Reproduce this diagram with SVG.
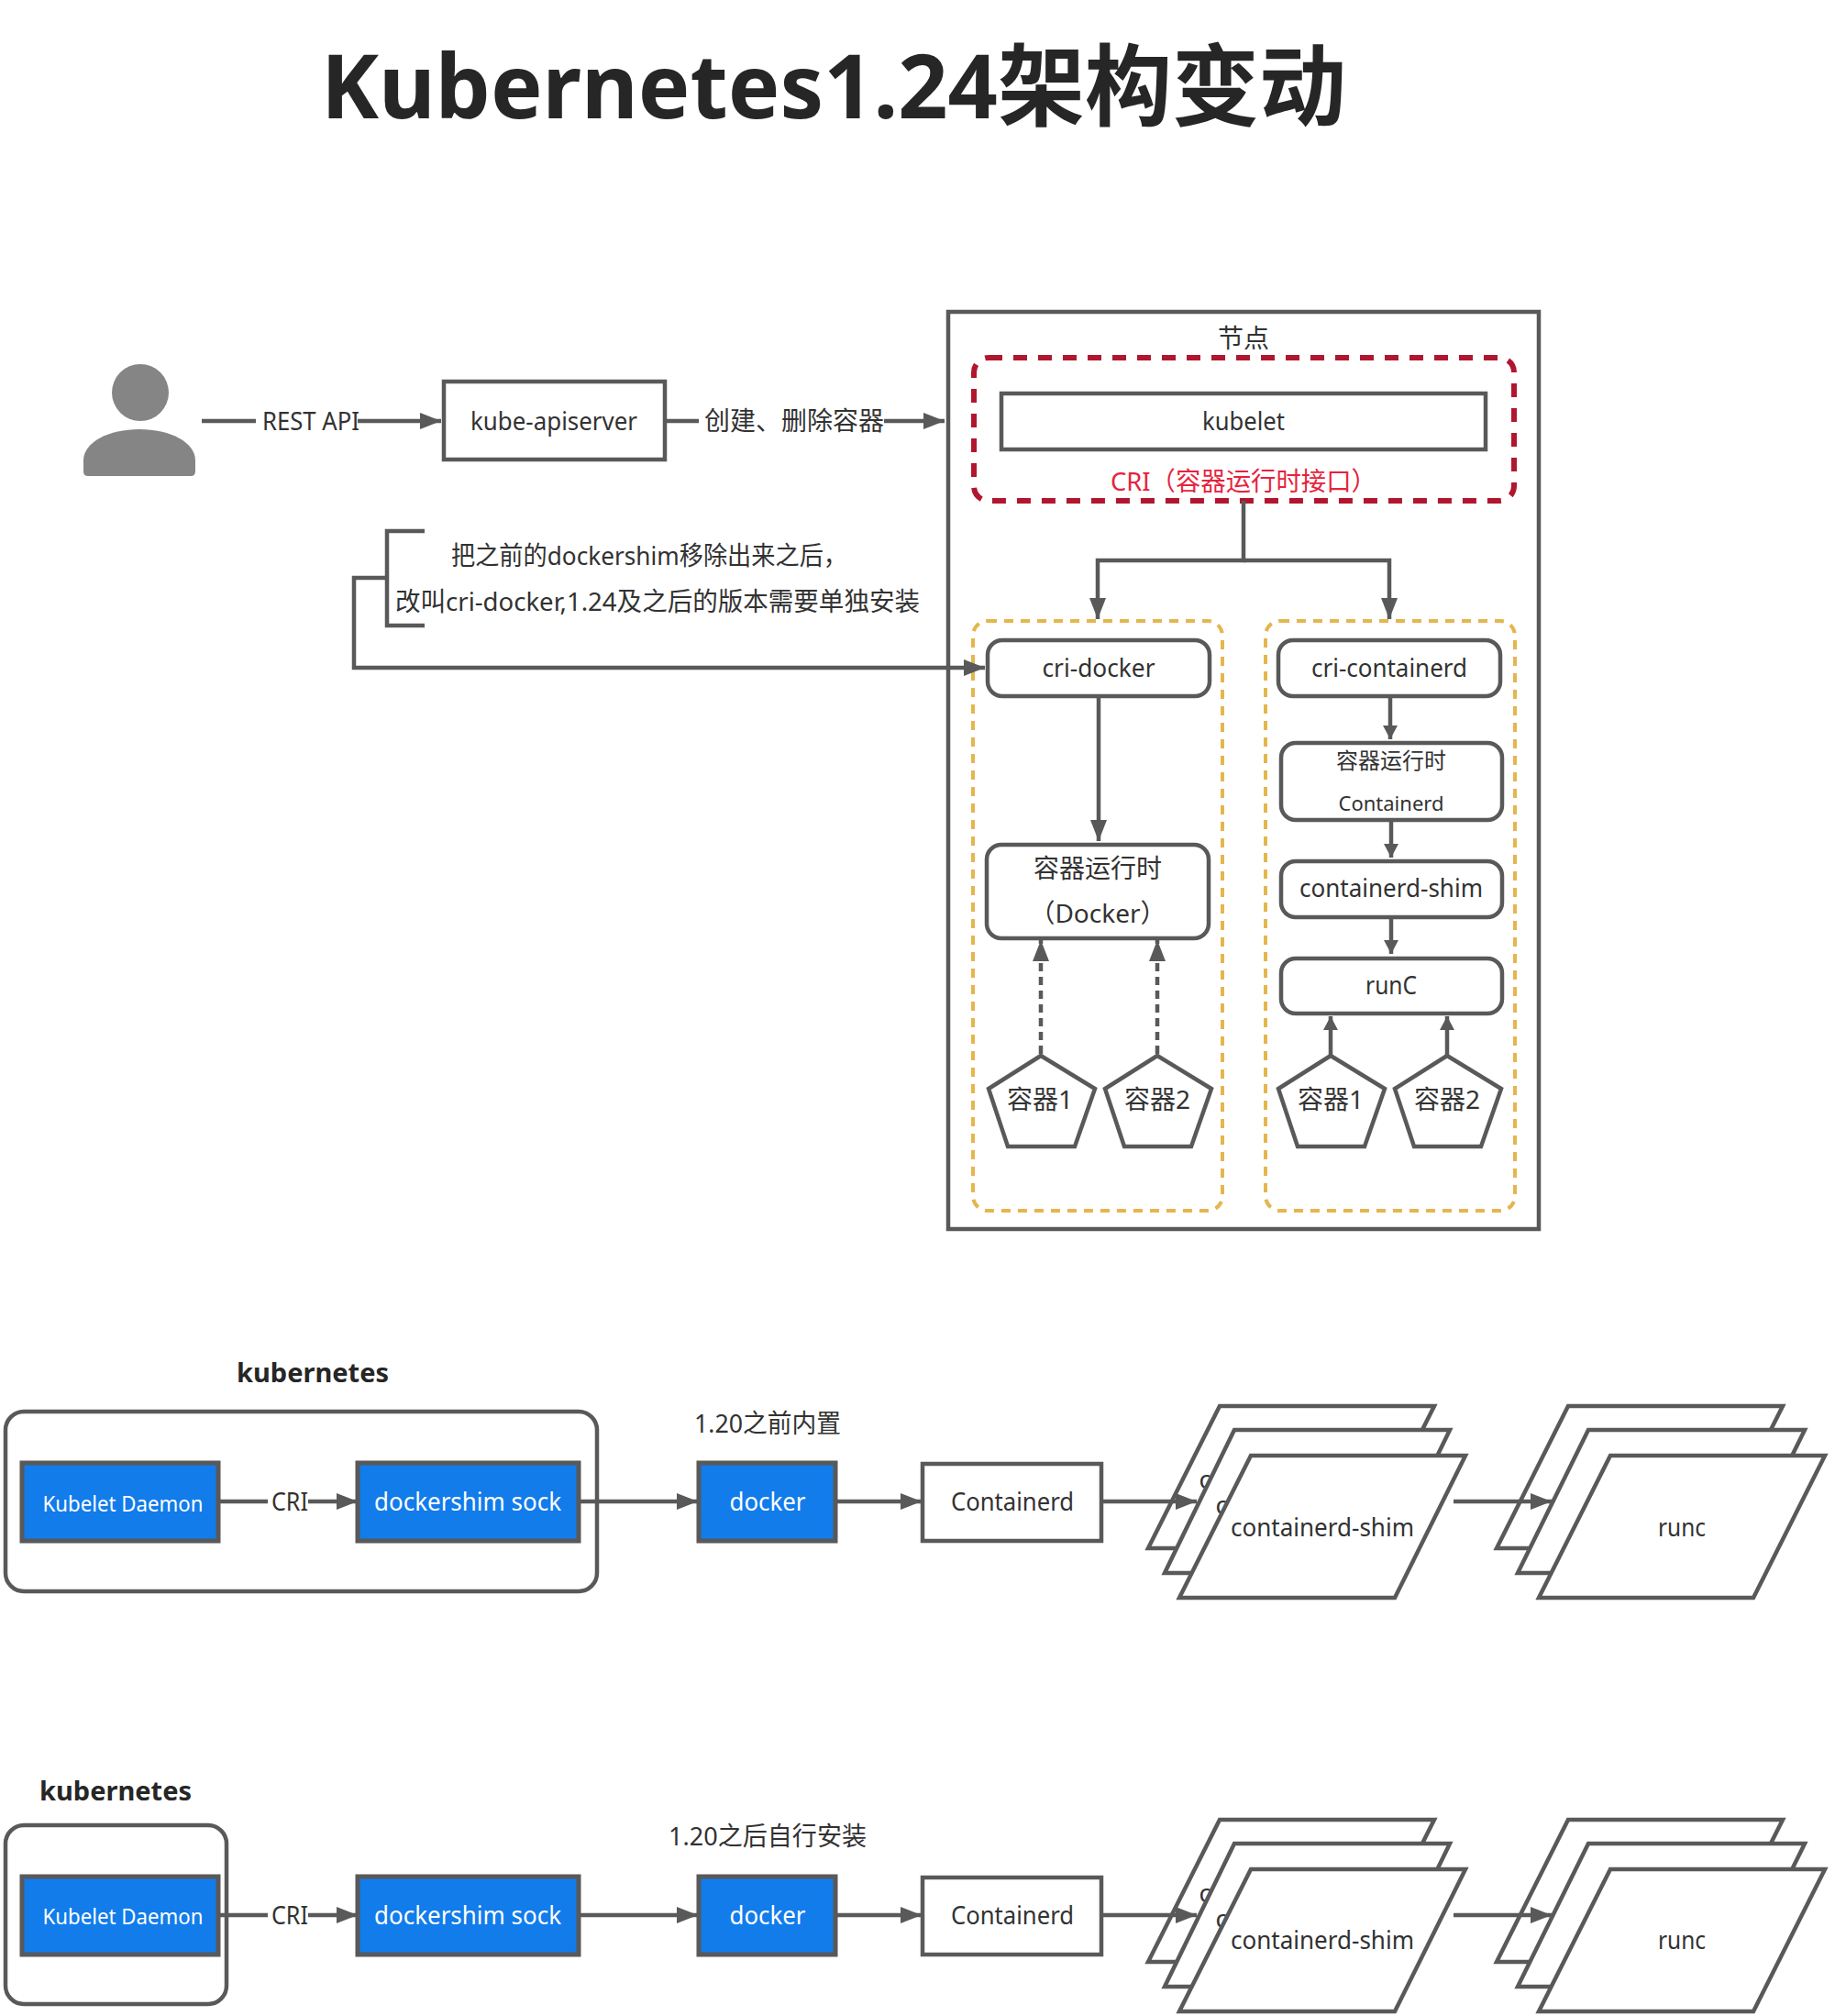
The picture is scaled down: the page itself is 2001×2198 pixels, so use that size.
<svg xmlns="http://www.w3.org/2000/svg" width="2001" height="2198" viewBox="0 0 2001 2198">
<style>
text{font-family:"Noto Sans","Noto Sans CJK SC",sans-serif;fill:#323232;text-anchor:middle;dominant-baseline:central;font-size:27px}
.z{font-size:28px}
.s{fill:#fff;stroke:#595959;stroke-width:4.5}
.b{fill:#127ceb;stroke:#595959;stroke-width:5}
.w{fill:#fff}
.c{fill:none;stroke:#595959;stroke-width:4.5}
.a{marker-end:url(#m)}
.t{marker-end:url(#n)}
text.k{font-size:28px;font-weight:700;fill:#262626}
text.wt{fill:#fff}
</style>
<defs>
<marker id="m" markerUnits="userSpaceOnUse" markerWidth="24" markerHeight="20" refX="23" refY="9" orient="auto"><path d="M0 0L23 9L0 18z" fill="#595959"/></marker>
<marker id="n" markerUnits="userSpaceOnUse" markerWidth="16" markerHeight="20" refX="15" refY="8" orient="auto"><path d="M0 0L15 8L0 16z" fill="#595959"/></marker>
</defs>
<text id="title" x="909" y="91" style="font-size:97px;font-weight:700;fill:#262626" textLength="1118" lengthAdjust="spacingAndGlyphs">Kubernetes1.24架构变动</text>

<g id="user"><ellipse cx="153" cy="428" rx="31" ry="31" fill="#858585"/><path d="M91 514v-12c0-20 28-34 61-34s61 14 61 34v12q0 5-5 5H96q-5 0-5-5z" fill="#858585"/></g>
<g id="kube-apiserver"><rect class="s" x="484" y="416" width="241" height="85"/><text x="604" y="458" textLength="182" lengthAdjust="spacingAndGlyphs">kube-apiserver</text></g>
<g id="node"><rect x="1034" y="340" width="644" height="1000" fill="#fff" stroke="#595959" stroke-width="4.5"/><text class="z" x="1356" y="368">节点</text></g>
<g id="cri-box"><rect x="1062" y="390" width="589" height="156" rx="16" fill="none" stroke="#b0172f" stroke-width="6" stroke-dasharray="15 12"/></g>
<g id="kubelet"><rect class="s" x="1092" y="429" width="528" height="61"/><text x="1356" y="458" textLength="90" lengthAdjust="spacingAndGlyphs">kubelet</text></g>
<text id="cri-label" x="1356" y="524" style="font-size:28px;fill:#e5233d" textLength="290" lengthAdjust="spacingAndGlyphs">CRI（容器运行时接口）</text>
<g id="docker-group"><rect x="1061" y="677" width="272" height="643" rx="16" fill="none" stroke="#e4b64e" stroke-width="4" stroke-dasharray="10 8"/></g>
<g id="containerd-group"><rect x="1380" y="677" width="272" height="643" rx="16" fill="none" stroke="#e4b64e" stroke-width="4" stroke-dasharray="10 8"/></g>
<g id="cri-docker"><rect class="s" x="1077" y="698" width="242" height="61" rx="16"/><text x="1198" y="727" textLength="123" lengthAdjust="spacingAndGlyphs">cri-docker</text></g>
<g id="cri-containerd"><rect class="s" x="1394" y="698" width="242" height="61" rx="16"/><text x="1515" y="727" textLength="170" lengthAdjust="spacingAndGlyphs">cri-containerd</text></g>
<g id="runtime-docker"><rect class="s" x="1076" y="921" width="242" height="102" rx="16"/><text class="z" x="1197" y="946">容器运行时</text><text class="z" x="1197" y="995">（Docker）</text></g>
<g id="runtime-containerd"><rect class="s" x="1397" y="810" width="241" height="84" rx="16"/><text x="1517" y="828" style="font-size:24px">容器运行时</text><text x="1517" y="875" style="font-size:22px" textLength="115" lengthAdjust="spacingAndGlyphs">Containerd</text></g>
<g id="containerd-shim"><rect class="s" x="1397" y="939" width="241" height="61" rx="16"/><text x="1517" y="967" textLength="200" lengthAdjust="spacingAndGlyphs">containerd-shim</text></g>
<g id="runC"><rect class="s" x="1397" y="1045" width="241" height="60" rx="16"/><text x="1517" y="1073" textLength="56" lengthAdjust="spacingAndGlyphs">runC</text></g>
<g id="pod1"><path class="s" d="M1135 1151L1194 1187L1172 1250H1099L1078 1187z"/><text class="z" x="1134" y="1198">容器1</text></g>
<g id="pod2"><path class="s" d="M1262 1151L1321 1187L1299 1250H1226L1205 1187z"/><text class="z" x="1262" y="1198">容器2</text></g>
<g id="pod3"><path class="s" d="M1451 1151L1510 1187L1488 1250H1415L1394 1187z"/><text class="z" x="1451" y="1198">容器1</text></g>
<g id="pod4"><path class="s" d="M1578 1151L1637 1187L1615 1250H1542L1521 1187z"/><text class="z" x="1578" y="1198">容器2</text></g>

<g id="note"><path class="c" d="M463 579H422V682H463"/><text class="z" x="708" y="605" textLength="432" lengthAdjust="spacingAndGlyphs">把之前的dockershim移除出来之后，</text><text class="z" x="717" y="655" textLength="572" lengthAdjust="spacingAndGlyphs">改叫cri-docker,1.24及之后的版本需要单独安装</text></g>

<g id="connectors">
<path class="c a" d="M220 459H481"/>
<path class="c a" d="M725 459H1030"/>
<path class="c a" d="M422 630H386V728H1074"/>
<path class="c a" d="M1356 546V611H1197V675"/>
<path class="c a" d="M1356 611H1515V675"/>
<path class="c a" d="M1198 759V917"/>
<path class="c t" d="M1516 759V806"/>
<path class="c t" d="M1517 894V935"/>
<path class="c t" d="M1517 1000V1040"/>
<path class="c t" d="M1451 1150V1108"/>
<path class="c t" d="M1578 1150V1108"/>
<path class="c a" stroke-dasharray="9 6" d="M1135 1149V1025"/>
<path class="c a" stroke-dasharray="9 6" d="M1262 1149V1025"/>
</g>
<g id="labels-top">
<rect class="w" x="279" y="440" width="111" height="38"/><text x="339" y="458" textLength="106" lengthAdjust="spacingAndGlyphs">REST API</text>
<rect class="w" x="762" y="440" width="202" height="38"/><text class="z" x="866" y="458" textLength="196" lengthAdjust="spacingAndGlyphs">创建、删除容器</text>
</g>

<g id="row1">
<text class="k" x="341" y="1496" textLength="166" lengthAdjust="spacingAndGlyphs">kubernetes</text>
<g id="r1-k8s"><rect class="s" x="6" y="1539" width="645" height="196" rx="20"/></g>
<g id="r1-kubelet"><rect class="b" x="24" y="1595" width="214" height="85"/><text class="wt" x="134" y="1638" style="font-size:24px" textLength="175" lengthAdjust="spacingAndGlyphs">Kubelet Daemon</text></g>
<g id="r1-dockershim"><rect class="b" x="390" y="1595" width="241" height="85"/><text class="wt" x="510" y="1636" textLength="204" lengthAdjust="spacingAndGlyphs">dockershim sock</text></g>
<g id="r1-docker"><rect class="b" x="762" y="1595" width="149" height="85"/><text class="wt" x="837" y="1636" textLength="83" lengthAdjust="spacingAndGlyphs">docker</text></g>
<text class="z" x="837" y="1551" textLength="160" lengthAdjust="spacingAndGlyphs">1.20之前内置</text>
<g id="r1-containerd"><rect class="s" x="1006" y="1596" width="195" height="84"/><text x="1104" y="1636" textLength="134" lengthAdjust="spacingAndGlyphs">Containerd</text></g>
<g id="r1-shim"><path class="s" d="M1330 1533H1564L1486 1688H1252z"/><text x="1314" y="1612">c</text><path class="s" d="M1346 1559H1581L1505 1715H1270z"/><text x="1332" y="1640">c</text><path class="s" d="M1364 1587H1598L1521 1742H1286z"/><text x="1442" y="1664" textLength="200" lengthAdjust="spacingAndGlyphs">containerd-shim</text></g>
<g id="r1-runc"><path class="s" d="M1710 1533H1944L1866 1688H1632z"/><path class="s" d="M1732 1559H1968L1891 1715H1655z"/><path class="s" d="M1756 1587H1990L1912 1742H1678z"/><text x="1834" y="1664" textLength="52" lengthAdjust="spacingAndGlyphs">runc</text></g>
<g id="r1-connectors">
<path class="c a" d="M238 1637H390"/>
<path class="c a" d="M631 1637H761"/>
<path class="c a" d="M911 1637H1005"/>
<path class="c a" d="M1202 1637H1305"/>
<path class="c a" d="M1585 1637H1692"/>
</g>
<rect class="w" x="292" y="1618" width="44" height="38"/><text x="316" y="1636" textLength="40" lengthAdjust="spacingAndGlyphs">CRI</text>
</g>

<g id="row2">
<text class="k" x="126" y="1952" textLength="166" lengthAdjust="spacingAndGlyphs">kubernetes</text>
<g id="r2-k8s"><rect class="s" x="6" y="1990" width="241" height="195" rx="20"/></g>
<g id="r2-kubelet"><rect class="b" x="24" y="2046" width="214" height="85"/><text class="wt" x="134" y="2088" style="font-size:24px" textLength="175" lengthAdjust="spacingAndGlyphs">Kubelet Daemon</text></g>
<g id="r2-dockershim"><rect class="b" x="390" y="2046" width="241" height="85"/><text class="wt" x="510" y="2087" textLength="204" lengthAdjust="spacingAndGlyphs">dockershim sock</text></g>
<g id="r2-docker"><rect class="b" x="762" y="2046" width="149" height="85"/><text class="wt" x="837" y="2087" textLength="83" lengthAdjust="spacingAndGlyphs">docker</text></g>
<text class="z" x="837" y="2001" textLength="216" lengthAdjust="spacingAndGlyphs">1.20之后自行安装</text>
<g id="r2-containerd"><rect class="s" x="1006" y="2047" width="195" height="84"/><text x="1104" y="2087" textLength="134" lengthAdjust="spacingAndGlyphs">Containerd</text></g>
<g id="r2-shim"><path class="s" d="M1330 1984H1564L1486 2139H1252z"/><text x="1314" y="2063">c</text><path class="s" d="M1346 2010H1581L1505 2166H1270z"/><text x="1332" y="2091">c</text><path class="s" d="M1364 2038H1598L1521 2193H1286z"/><text x="1442" y="2114" textLength="200" lengthAdjust="spacingAndGlyphs">containerd-shim</text></g>
<g id="r2-runc"><path class="s" d="M1710 1984H1944L1866 2139H1632z"/><path class="s" d="M1732 2010H1968L1891 2166H1655z"/><path class="s" d="M1756 2038H1990L1912 2193H1678z"/><text x="1834" y="2114" textLength="52" lengthAdjust="spacingAndGlyphs">runc</text></g>
<g id="r2-connectors">
<path class="c a" d="M238 2088H390"/>
<path class="c a" d="M631 2088H761"/>
<path class="c a" d="M911 2088H1005"/>
<path class="c a" d="M1202 2088H1305"/>
<path class="c a" d="M1585 2088H1692"/>
</g>
<rect class="w" x="292" y="2069" width="44" height="38"/><text x="316" y="2087" textLength="40" lengthAdjust="spacingAndGlyphs">CRI</text>
</g>
</svg>
